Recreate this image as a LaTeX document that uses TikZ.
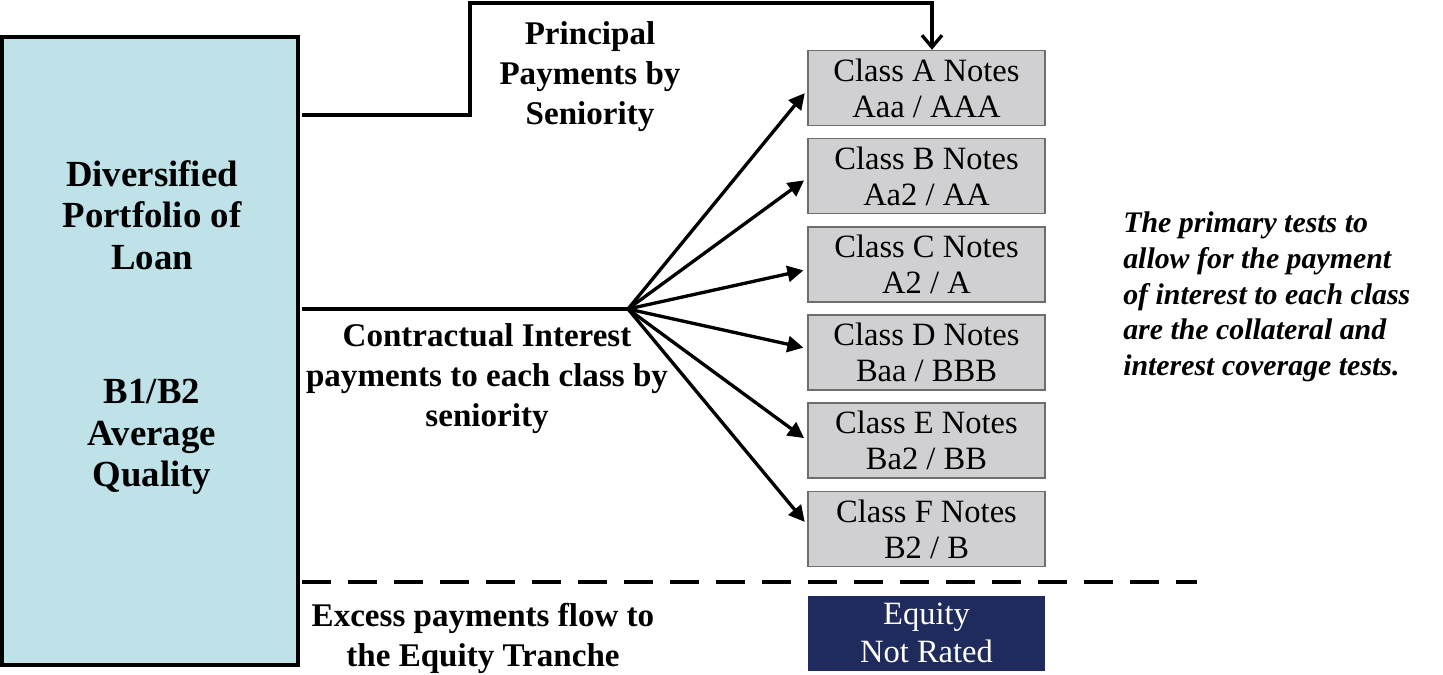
\documentclass[tikz,border=0pt]{standalone}
\usepackage{fontspec}
\setmainfont{Liberation Serif}
\usetikzlibrary{arrows.meta,calc}
\definecolor{portblue}{RGB}{190,226,232}
\definecolor{notegray}{RGB}{208,208,210}
\definecolor{noteedge}{RGB}{110,110,110}
\definecolor{equityblue}{RGB}{31,43,92}
\begin{document}
\begin{tikzpicture}[x=0.75pt,y=-0.75pt,
  lbl/.style={font=\bfseries\fontsize{24.8}{30}\selectfont, align=center, inner sep=0pt},
  portlbl/.style={font=\bfseries\fontsize{27.6}{31}\selectfont, align=center, inner sep=0pt},
  notebox/.style={draw=noteedge, fill=notegray, line width=1pt, minimum width=177.75pt, minimum height=56.25pt, font=\fontsize{24.4}{27}\selectfont, align=center, inner sep=0pt},
  conn/.style={line width=2.5pt},
  fanarrow/.style={conn, -{Triangle[length=12pt,width=12pt]}, shorten >=3pt},
]
\useasboundingbox (0,0) rectangle (1443,675);
% portfolio box
\node[draw=black, fill=portblue, line width=2.5pt, minimum width=222pt, minimum height=471pt, inner sep=0pt] (port) at (150,351) {};
\node[portlbl] (portA) at (152,215) {Diversified\\Portfolio of\\Loan};
\node[portlbl] (portB) at (152,437) {B1/B2\\Average\\Quality};
% note boxes
\node[notebox] (A) at (926.5,88) {Class A Notes\\Aaa / AAA};
\node[notebox] (B) at (926.5,176) {Class B Notes\\Aa2 / AA};
\node[notebox] (C) at (926.5,264.5) {Class C Notes\\A2 / A};
\node[notebox] (D) at (926.5,352.5) {Class D Notes\\Baa / BBB};
\node[notebox] (E) at (926.5,440.5) {Class E Notes\\Ba2 / BB};
\node[notebox] (F) at (926.5,529) {Class F Notes\\B2 / B};
\node[notebox, draw=none, fill=equityblue, text=white, font=\fontsize{24.4}{28.5}\selectfont] (EQ) at (926.5,633) {Equity\\Not Rated};
% labels
\node[lbl] (prin) at (590,77) {Principal\\Payments by\\Seniority};
\node[lbl] (contr) at (487,379) {Contractual Interest\\payments to each class by\\seniority};
\node[lbl] (excess) at (483,638) {Excess payments flow to\\the Equity Tranche};
\node[font=\bfseries\itshape\fontsize{22.4}{26.8}\selectfont, align=left, anchor=west, inner sep=0pt] (tests) at (1123,297) {The primary tests to\\allow for the payment\\of interest to each class\\are the collateral and\\interest coverage tests.};
% principal connector
\coordinate (p0) at (302,115);
\coordinate (p1) at (470,115);
\coordinate (p2) at (470,3);
\coordinate (p3) at (932,3);
\draw[conn, -{Straight Barb[length=9pt,width=15pt]}] (p0) -- (p1) -- (p2) -- (p3) -- (A.north -| p3);
% interest fan
\coordinate (i0) at (302,309);
\coordinate (fan) at (628,309);
\draw[conn] (i0) -- (fan);
\foreach \n/\dy in {A/2,B/2,C/5,D/-4,E/0,F/-4}{
  \draw[fanarrow] (fan) -- ($(\n.west)+(0,\dy)$);
}
% dashed separator
\coordinate (d0) at (302,582);
\coordinate (d1) at (1197,582);
\draw[line width=2.4pt, dash pattern=on 21.75pt off 12.75pt] (d0) -- (d1);
\end{tikzpicture}
\end{document}
